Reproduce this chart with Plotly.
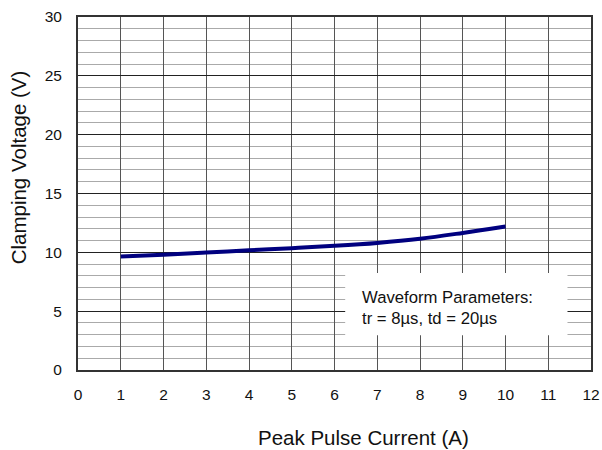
import plotly.graph_objects as go

current = [1, 2, 3, 4, 5, 6, 7, 8, 9, 10]
voltage = [9.65, 9.8, 9.98, 10.17, 10.35, 10.55, 10.8, 11.15, 11.65, 12.2]
x_ticks = list(range(0, 13))
y_ticks = [0, 5, 10, 15, 20, 25, 30]

FONT = "Liberation Sans, Arial"

fig = go.Figure()
fig.add_trace(go.Scatter(x=current, y=voltage, mode="lines", line=dict(color="#00007f", width=4, shape="spline"),
                         showlegend=False))

fig.add_shape(type="rect", x0=6.25, x1=11.45, y0=2.95, y1=8.25, xref="x", yref="y",
              fillcolor="white", line=dict(width=0), layer="above")
fig.add_annotation(x=6.6, y=6.2, xref="x", yref="y", text="Waveform Parameters:", showarrow=False,
                   xanchor="left", font=dict(family=FONT, size=16.7, color="#111"))
fig.add_annotation(x=6.6, y=4.35, xref="x", yref="y", text="tr = 8µs, td = 20µs", showarrow=False,
                   xanchor="left", font=dict(family=FONT, size=16.7, color="#111"))

# axis titles (offset from plot centre as in the reference)
fig.add_annotation(x=0.556, y=-0.19, xref="paper", yref="paper", text="Peak Pulse Current (A)",
                   showarrow=False, xanchor="center", yanchor="middle",
                   font=dict(family=FONT, size=20.5, color="#111"))
fig.add_annotation(x=-0.117, y=0.574, xref="paper", yref="paper", text="Clamping Voltage (V)",
                   showarrow=False, textangle=-90, xanchor="center", yanchor="middle",
                   font=dict(family=FONT, size=20.5, color="#111"))

fig.update_xaxes(range=[0, 12], tickvals=x_ticks, ticks="", showgrid=True, gridcolor="#555", gridwidth=1,
                 showline=True, linecolor="#333", linewidth=2, mirror=True, zeroline=False, automargin=False,
                 ticklabelstandoff=9, tickfont=dict(size=15.5, color="#111"))
fig.update_yaxes(range=[0, 30], tickvals=y_ticks, ticks="", showgrid=True, gridcolor="#222", gridwidth=1,
                 minor=dict(dtick=1, showgrid=True, gridcolor="#aaa", gridwidth=1),
                 showline=True, linecolor="#333", linewidth=2, mirror=True, zeroline=False, automargin=False,
                 ticklabelstandoff=11, tickfont=dict(size=15.5, color="#111"))

fig.update_layout(width=602, height=450, margin=dict(l=78, r=11, t=17, b=80),
                  plot_bgcolor="white", paper_bgcolor="white",
                  font=dict(family=FONT))
fig.write_html("out.html", config={"displayModeBar": False},
               post_script="document.body.style.margin='0';")
